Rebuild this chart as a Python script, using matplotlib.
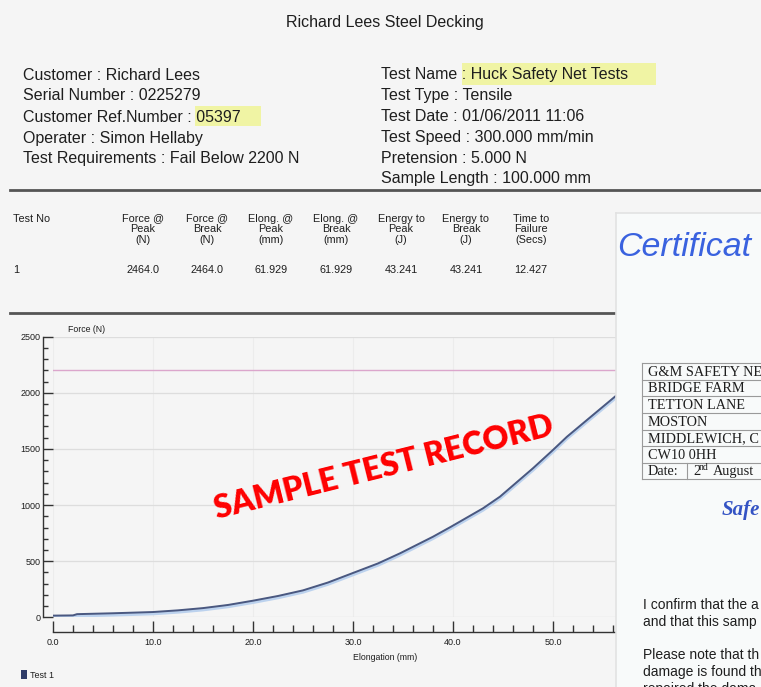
import matplotlib
matplotlib.use('Agg')
import matplotlib.pyplot as plt
from matplotlib.patches import Rectangle
from matplotlib.ticker import MultipleLocator, FormatStrFormatter
import matplotlib.transforms as mtransforms

# ---------------- data ----------------
elong_mm = [0, 2.0, 2.4, 6, 10, 12.5, 15, 17.5, 20, 22.5, 25, 27.5, 30, 32.5,
            34.7, 38.0, 39.8, 43.0, 44.7, 48.0, 50.0, 51.4, 53.4, 56.4, 59.0, 61.9]
force_n = [15, 17, 28, 36, 47, 62, 82, 110, 148, 190, 240, 310, 395, 480,
           570, 718, 807, 971, 1075, 1328, 1491, 1609, 1758, 1981, 2200, 2464]
requirement_n = 2200
series_name = "Test 1"

title = "Richard Lees Steel Decking"
header_left = ["Customer : Richard Lees", "Serial Number : 0225279",
               "Customer Ref.Number : 05397", "Operater : Simon Hellaby",
               "Test Requirements : Fail Below 2200 N"]
header_right = ["Test Name : Huck Safety Net Tests", "Test Type : Tensile",
                "Test Date : 01/06/2011 11:06", "Test Speed : 300.000 mm/min",
                "Pretension : 5.000 N", "Sample Length : 100.000 mm"]
table_headers = ["Force @\nPeak\n(N)", "Force @\nBreak\n(N)", "Elong. @\nPeak\n(mm)",
                 "Elong. @\nBreak\n(mm)", "Energy to\nPeak\n(J)", "Energy to\nBreak\n(J)",
                 "Time to\nFailure\n(Secs)"]
table_values = ["2464.0", "2464.0", "61.929", "61.929", "43.241", "43.241", "12.427"]
cert_title = "Certificat"
cert_rows = ["G&M SAFETY NE", "BRIDGE FARM", "TETTON LANE", "MOSTON",
             "MIDDLEWICH, C", "CW10 0HH"]
cert_date = ("Date:", "2", "nd", "August")
cert_heading = "Safe"
cert_lines = ["I confirm that the a", "and that this samp",
              "Please note that th", "damage is found th", "repaired the dama"]

W, H = 761, 687
SANS = ['Liberation Sans', 'DejaVu Sans']
SERIF = ['Liberation Serif', 'DejaVu Serif']
TXT = '#1e1e1e'

fig = plt.figure(figsize=(W / 100, H / 100), dpi=100)
fig.patch.set_facecolor('#f5f5f5')

# background axes in pixel coordinates
bg = fig.add_axes([0, 0, 1, 1], zorder=-1)
bg.set_xlim(0, W)
bg.set_ylim(H, 0)
bg.axis('off')

# highlights
bg.add_patch(Rectangle((462, 63), 194, 22, color='#f0f4a4', lw=0))
bg.add_patch(Rectangle((195, 106), 66, 20, color='#f0f4a4', lw=0))

bg.text(385, 23, title, ha='center', va='center', fontsize=11.5, family=SANS, color=TXT)
for i, s in enumerate(header_left):
    bg.text(23, 75 + 21 * i, s, ha='left', va='center', fontsize=11.5, family=SANS, color=TXT)
for i, s in enumerate(header_right):
    bg.text(381, 75 + 20.8 * i, s, ha='left', va='center', fontsize=11.5, family=SANS, color=TXT)

bg.plot([10, W], [190, 190], color='#555555', lw=2)
bg.plot([10, 616], [313, 313], color='#555555', lw=2)

# results table
bg.text(13, 219, "Test No", ha='left', va='center', fontsize=7.8, family=SANS, color=TXT)
col_x = [143, 207, 271, 336, 401, 466, 531]
for cx, h, v in zip(col_x, table_headers, table_values):
    bg.text(cx, 213.5, h, ha='center', va='top', fontsize=7.8, family=SANS, color=TXT,
            linespacing=1.08)
    bg.text(cx, 270, v, ha='center', va='center', fontsize=7.8, family=SANS, color=TXT)
bg.text(13, 270, "1", ha='left', va='center', fontsize=7.8, family=SANS, color=TXT)

# legend and axis titles
bg.add_patch(Rectangle((21, 670), 6, 9, color='#2e3b68', lw=0))
bg.text(30, 675.5, series_name, ha='left', va='center', fontsize=6.5, family=SANS, color=TXT)
bg.text(68, 329, "Force (N)", ha='left', va='center', fontsize=6.3, family=SANS, color=TXT)
bg.text(385, 657, "Elongation (mm)", ha='center', va='center', fontsize=6.3, family=SANS, color=TXT)

# ---------------- chart ----------------
x0, x1 = 53, 703
y0, y1 = 617.3, 336.7
ax = fig.add_axes([x0 / W, 1 - y0 / H, (x1 - x0) / W, (y0 - y1) / H], zorder=1)
ax.set_facecolor('none')
ax.set_xlim(0, 65)
ax.set_ylim(0, 2500)
for s in ['top', 'right']:
    ax.spines[s].set_visible(False)
ax.spines['left'].set_position(('outward', 7.2))
ax.spines['bottom'].set_position(('outward', 10.3))
ax.spines['left'].set_bounds(0, 2500)
ax.spines['bottom'].set_bounds(0, 65)
for s in ['left', 'bottom']:
    ax.spines[s].set_color('#333333')
    ax.spines[s].set_linewidth(1.0)

ax.xaxis.set_major_locator(MultipleLocator(10))
ax.xaxis.set_minor_locator(MultipleLocator(2))
ax.yaxis.set_major_locator(MultipleLocator(500))
ax.yaxis.set_minor_locator(MultipleLocator(100))
ax.xaxis.set_major_formatter(FormatStrFormatter('%.1f'))
ax.yaxis.set_major_formatter(FormatStrFormatter('%d'))

ax.tick_params(axis='x', which='major', direction='in', length=8, width=1, color='#333333',
               labelsize=6.5, pad=4.5, labelcolor=TXT)
ax.tick_params(axis='x', which='minor', direction='in', length=5, width=1, color='#333333')
ax.tick_params(axis='y', which='major', direction='in', length=7.2, width=1, color='#333333',
               labelsize=6.5, pad=2, labelcolor=TXT)
ax.tick_params(axis='y', which='minor', direction='in', length=3.8, width=1, color='#333333')
for lab in ax.get_xticklabels() + ax.get_yticklabels():
    lab.set_family(SANS)

ax.grid(True, axis='y', which='major', color='#dddddd', lw=0.9)
ax.grid(True, axis='x', which='major', color='#ececec', lw=0.8)
ax.set_axisbelow(True)

ax.axhline(requirement_n, color='#dba6cc', lw=1.0, zorder=2)
halo = mtransforms.offset_copy(ax.transData, fig=fig, x=0, y=-1.5, units='dots')
ax.plot(elong_mm, force_n, color='#bcd2ee', lw=2.6, transform=halo, zorder=3, solid_capstyle='butt')
ax.plot(elong_mm, force_n, color='#4a5880', lw=1.4, zorder=4)

# watermark
fig.text(384 / W, 1 - 468 / H, "SAMPLE TEST RECORD", ha='center', va='center',
         rotation=14, rotation_mode='anchor', fontsize=23, fontweight='heavy',
         family=['Lato', 'Liberation Sans', 'DejaVu Sans'], color='#ff0000', zorder=3)

# ---------------- certificate overlay ----------------
cx0, cy0 = 616, 213
cert = fig.add_axes([cx0 / W, 0, (W - cx0) / W, 1 - cy0 / H], zorder=5)
cert.set_xlim(cx0, W)
cert.set_ylim(H, cy0)
cert.set_facecolor('#f8fafa')
cert.set_xticks([])
cert.set_yticks([])
for s in ['right', 'bottom']:
    cert.spines[s].set_visible(False)
for s in ['left', 'top']:
    cert.spines[s].set_color('#e2e2e2')
    cert.spines[s].set_linewidth(1.2)

cert.text(617, 248, cert_title, ha='left', va='center', fontsize=24.5, style='italic',
          family=SANS, color='#3a62df', clip_on=True)

# address table
tx0, ty0, rh = 642, 363.3, 16.57
n_rows = len(cert_rows) + 1
for i in range(n_rows + 1):
    cert.plot([tx0, W + 5], [ty0 + i * rh] * 2, color='#9a9a9a', lw=0.8)
cert.plot([tx0, tx0], [ty0, ty0 + n_rows * rh], color='#9a9a9a', lw=0.8)
cert.plot([687, 687], [ty0 + 6 * rh, ty0 + 7 * rh], color='#9a9a9a', lw=0.8)
for i, s in enumerate(cert_rows):
    cert.text(648, ty0 + (i + 0.55) * rh, s, ha='left', va='center', fontsize=10.3,
              family=SERIF, color=TXT, clip_on=True)
cert.text(648, ty0 + 6.55 * rh, cert_date[0], ha='left', va='center', fontsize=10.3,
          family=SERIF, color=TXT, clip_on=True)
cert.text(693, ty0 + 6.55 * rh, cert_date[1], ha='left', va='center', fontsize=10.3,
          family=SERIF, color=TXT, clip_on=True)
cert.text(699, ty0 + 6.3 * rh, cert_date[2], ha='left', va='center', fontsize=7,
          family=SERIF, color=TXT, clip_on=True)
cert.text(713, ty0 + 6.55 * rh, cert_date[3], ha='left', va='center', fontsize=10.3,
          family=SERIF, color=TXT, clip_on=True)

cert.text(722, 510, cert_heading, ha='left', va='center', fontsize=15, style='italic',
          fontweight='bold', family=SERIF, color='#3453c4', clip_on=True)

for s, yy in zip(cert_lines, [605, 622, 655, 672, 689]):
    cert.text(643, yy, s, ha='left', va='center', fontsize=10, family=SANS,
              color=TXT, clip_on=True)

fig.savefig('out.png', dpi=100, facecolor=fig.get_facecolor())
